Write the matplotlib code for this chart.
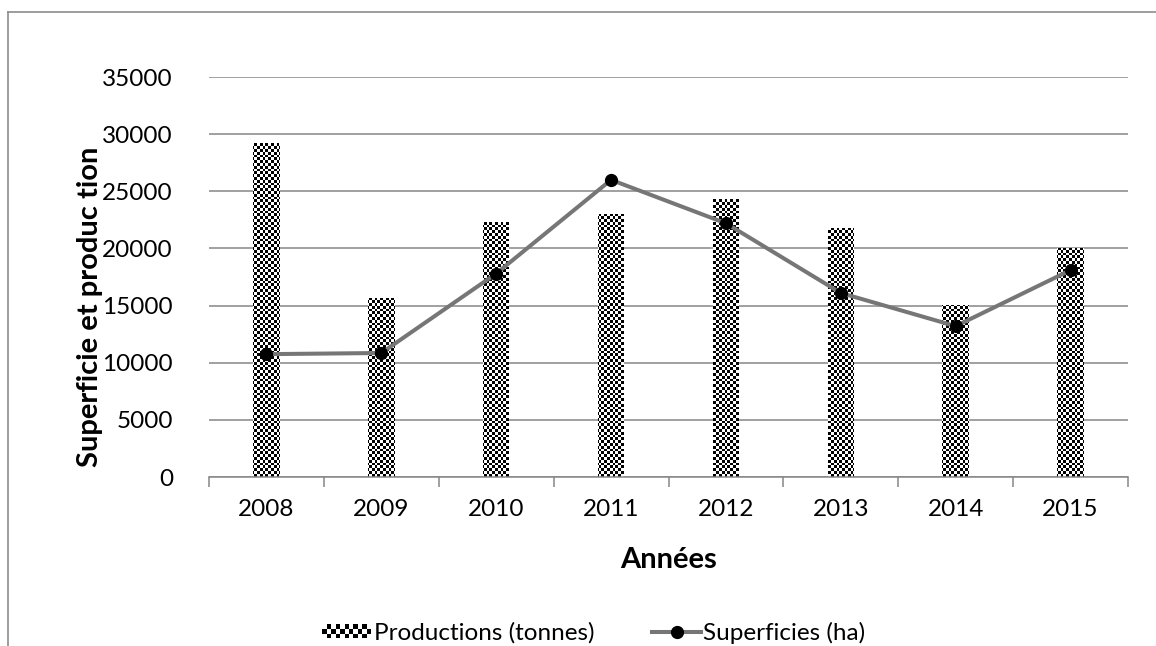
import numpy as np
import matplotlib.pyplot as plt
from matplotlib.path import Path
from matplotlib.patches import PathPatch, Rectangle
from matplotlib.lines import Line2D
from matplotlib.legend_handler import HandlerBase

years = ["2008", "2009", "2010", "2011", "2012", "2013", "2014", "2015"]
productions = [29200, 15650, 22300, 23050, 24300, 21750, 15050, 20000]
superficies = [10750, 10850, 17800, 26000, 22200, 16100, 13200, 18100]
y_ticks = [0, 5000, 10000, 15000, 20000, 25000, 30000, 35000]

plt.rcParams["font.family"] = ["Lato", "DejaVu Sans"]

W, H, DPI = 1156, 646, 100
fig = plt.figure(figsize=(W / DPI, H / DPI), dpi=DPI)
ax = fig.add_axes([209 / W, 1 - 477 / H, (1128 - 209) / W, 400 / H])

grid_col = "#868686"
x = np.arange(len(years))

# bars: white base, the checker texture is clipped into them afterwards
bars = ax.bar(x, productions, width=0.23, color="white", edgecolor="none", zorder=2)

ax.set_xlim(-0.5, len(years) - 0.5)
ax.set_ylim(0, 35000)

# checkerboard texture built per pixel
pw, ph = 1128 - 209, 400
yy, xx = np.indices((ph, pw))
period = 5.6
cx = (xx // (period / 2)).astype(int)
cy = (yy // (period / 2)).astype(int)
checker = ((cx + cy) % 2).astype(float)
clip = PathPatch(Path.make_compound_path(*[b.get_path().transformed(b.get_patch_transform()) for b in bars]),
                 transform=ax.transData, facecolor="none", edgecolor="none")
ax.add_patch(clip)
img = ax.imshow(checker, cmap="gray", vmin=0, vmax=1, extent=(-0.5, len(years) - 0.5, 0, 35000),
                aspect="auto", interpolation="nearest", zorder=2.5, origin="lower")
img.set_clip_path(clip)

ax.plot(x, superficies, color="#767676", lw=2.9, marker="o", ms=8.5,
        mfc="black", mec="black", zorder=4)

# axes styling
for s in ["left", "right", "top"]:
    ax.spines[s].set_visible(False)
ax.spines["bottom"].set_color(grid_col)
ax.spines["bottom"].set_linewidth(1.1)
ax.set_yticks(y_ticks)
ax.set_yticklabels([str(v) for v in y_ticks], fontsize=17.5)
ax.tick_params(axis="y", length=0, pad=26)
ax.yaxis.grid(True, color=grid_col, lw=1.1, zorder=0)
ax.set_axisbelow(True)

ax.set_xticks(np.arange(-0.5, len(years), 1.0))
ax.set_xticklabels([])
ax.set_xticks(x, minor=True)
ax.set_xticklabels(years, minor=True, fontsize=17.5)
ax.tick_params(axis="x", which="minor", length=0, pad=16)
ax.tick_params(axis="x", which="major", length=7, color=grid_col, width=1.1)

ax.set_xlabel("Années", fontsize=21, fontweight="bold", labelpad=19)
ax.set_ylabel("Superficie et produc tion", fontsize=21, fontweight="bold", va="center")
ax.yaxis.set_label_coords((90 - 209) / 919, (477 - 307) / 400)


class CheckerHandler(HandlerBase):
    def create_artists(self, legend, orig_handle, xdescent, ydescent, width, height, fontsize, trans):
        arts = []
        n_c, n_r = 11, 3
        cw, ch = width / n_c, height / n_r
        for r in range(n_r):
            for c in range(n_c):
                col = "black" if (r + c) % 2 else "white"
                arts.append(Rectangle((-xdescent + c * cw, -ydescent + r * ch), cw, ch,
                                      facecolor=col, edgecolor="none", transform=trans))
        return arts


line_handle = Line2D([], [], color="#767676", lw=2.9, marker="o", ms=8.5, mfc="black", mec="black")
fig.legend([bars, line_handle], ["Productions (tonnes)", "Superficies (ha)"],
           handler_map={type(bars): CheckerHandler()},
           loc="center", bbox_to_anchor=(594 / W, 1 - 633 / H), ncol=2, frameon=False,
           fontsize=17.5, handlelength=2.0, handleheight=0.5, handletextpad=0.1, columnspacing=2.4)

# outer frame: top and left edges only
fig.add_artist(Line2D([8 / W, 1], [1 - 12 / H, 1 - 12 / H], transform=fig.transFigure, color="#8c8c8c", lw=1.2))
fig.add_artist(Line2D([8 / W, 8 / W], [0, 1 - 12 / H], transform=fig.transFigure, color="#8c8c8c", lw=1.2))

fig.savefig("out.png", dpi=DPI)
